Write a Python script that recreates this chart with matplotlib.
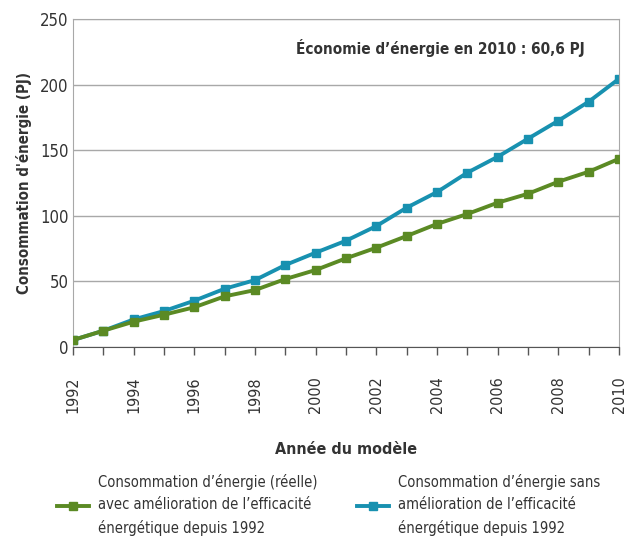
import matplotlib.pyplot as plt
from matplotlib import font_manager

years = list(range(1992, 2011))
reelle = [5.3, 12.4, 19.3, 24.6, 30.3, 38.6, 43.4, 51.8, 58.7, 67.6,
          75.7, 84.6, 93.8, 101.4, 110.0, 116.8, 126.0, 133.6, 143.5]
sans_amelioration = [5.3, 12.4, 21.0, 27.4, 35.3, 44.4, 51.0, 62.5, 71.9, 81.0,
                     92.2, 106.2, 118.1, 132.9, 145.0, 158.8, 172.5, 187.0, 204.5]
year_labels = [str(y) if y % 2 == 0 else "" for y in years]

label_reelle = "Consommation d\u2019énergie (réelle)\navec amélioration de l\u2019efficacité\nénergétique depuis 1992"
label_sans = "Consommation d\u2019énergie sans\namélioration de l\u2019efficacité\nénergétique depuis 1992"

# look for a narrow face, the original uses a condensed font
narrow = [f for f in font_manager.fontManager.ttflist
          if ("ondensed" in f.fname or "Narrow" in f.fname or "arrow" in f.name)]
if narrow:
    plt.rcParams['font.family'] = [narrow[0].name, 'DejaVu Sans']
    plt.rcParams['font.stretch'] = 'condensed'
    k = 1.0
else:
    plt.rcParams['font.family'] = ['DejaVu Sans']
    k = 0.85

green = "#5b8a24"
blue = "#1891b0"
txt = "#333333"

fig = plt.figure(figsize=(6.26, 5.41), dpi=100)
ax = fig.add_axes([0.1166, 0.3586, 0.8724, 0.6063])

ax.plot(years, reelle, color=green, lw=2.8, marker="s", ms=6, label=label_reelle, zorder=3)
ax.plot(years, sans_amelioration, color=blue, lw=2.8, marker="s", ms=6, label=label_sans, zorder=2)

ax.set_xlim(1992, 2010)
ax.set_ylim(0, 250)
ax.set_yticks([0, 50, 100, 150, 200, 250])
ax.set_xticks(years)
ax.set_xticklabels(year_labels, rotation=90)
ax.grid(axis="y", color="#a8a8a8", lw=1)
ax.set_axisbelow(True)
for s in ax.spines.values():
    s.set_color("#a8a8a8")
ax.spines["bottom"].set_color("#555555")
ax.tick_params(axis="x", direction="out", length=6, width=1, color="#555555",
               pad=15, labelsize=11.5 * k, labelcolor=txt)
ax.tick_params(axis="y", length=0, pad=3, labelsize=12 * k, labelcolor=txt)

ax.set_xlabel("Année du modèle", fontsize=11.5 * k, fontweight="bold", color=txt, labelpad=21)
ax.set_ylabel("Consommation d'énergie (PJ)", fontsize=10.8 * k, fontweight="bold", color=txt, labelpad=6)

ax.text(2004.1, 228, "Économie d\u2019énergie en 2010 : 60,6 PJ", fontsize=11 * k,
        fontweight="bold", color=txt, ha="center", va="center")

leg = fig.legend(loc="upper left", bbox_to_anchor=(0.091, 0.124), ncol=2, frameon=False,
                 fontsize=10.5 * k, labelcolor=txt, handlelength=2.2, columnspacing=2.7,
                 handletextpad=0.6, borderpad=0, borderaxespad=0)
for t in leg.get_texts():
    t.set_linespacing(1.6)

fig.savefig("out.png", dpi=100)
